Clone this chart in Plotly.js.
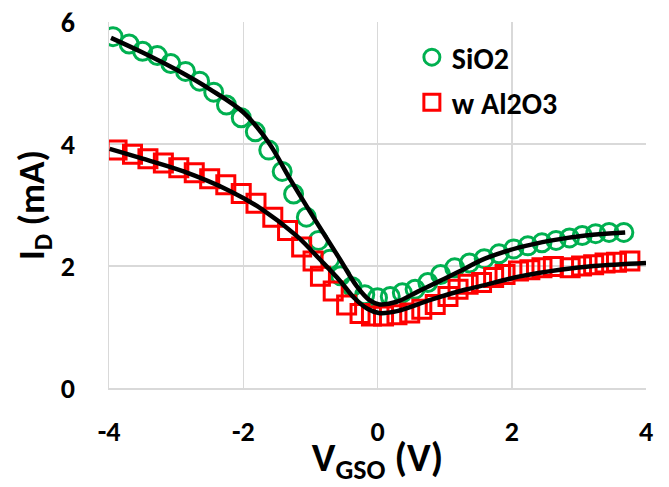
<!DOCTYPE html>
<html>
<head>
<meta charset="utf-8">
<script src="https://cdn.plot.ly/plotly-3.0.1.min.js"></script>
<style>html,body{margin:0;padding:0;background:#fff;}</style>
</head>
<body>
<div id="chart" style="width:669px;height:487px;"></div>
<script>
// SiO2 measured (circles)
const sio2X = [-3.94,-3.70,-3.50,-3.28,-3.08,-2.86,-2.65,-2.44,-2.25,-2.03,-1.82,-1.62,-1.42,-1.25,-1.06,-0.88,-0.71,-0.55,-0.38,-0.19,0.00,0.19,0.37,0.56,0.75,0.94,1.15,1.37,1.59,1.81,2.03,2.24,2.45,2.66,2.86,3.05,3.25,3.45,3.67];
const sio2Y = [5.76,5.64,5.52,5.45,5.32,5.19,5.03,4.85,4.64,4.43,4.20,3.90,3.55,3.18,2.80,2.42,2.11,1.84,1.66,1.53,1.48,1.50,1.56,1.62,1.73,1.86,1.97,2.05,2.12,2.20,2.28,2.33,2.38,2.42,2.46,2.50,2.53,2.55,2.55];
// w Al2O3 measured (squares)
const alX = [-3.88,-3.65,-3.42,-3.19,-2.96,-2.73,-2.50,-2.26,-2.03,-1.81,-1.56,-1.34,-1.13,-0.96,-0.85,-0.66,-0.46,-0.26,-0.09,0.09,0.29,0.48,0.66,0.86,1.05,1.20,1.35,1.55,1.73,1.90,2.10,2.27,2.45,2.62,2.87,3.04,3.22,3.39,3.56,3.76];
const alY = [3.90,3.83,3.76,3.69,3.61,3.53,3.43,3.33,3.19,3.03,2.80,2.58,2.31,2.08,1.83,1.59,1.36,1.22,1.18,1.18,1.20,1.23,1.29,1.37,1.50,1.62,1.70,1.73,1.81,1.86,1.92,1.94,1.97,1.99,1.97,2.00,2.02,2.05,2.06,2.08];
// fitted curves (black)
const fitSiX = [-3.97,-3.5,-3.0,-2.5,-2.0,-1.62,-1.3,-0.96,-0.56,-0.31,-0.12,0.03,0.3,0.6,0.9,1.2,1.6,2.1,2.6,3.1,3.69];
const fitSiY = [5.74,5.50,5.22,4.90,4.52,4.02,3.42,2.81,2.11,1.67,1.44,1.37,1.42,1.58,1.74,1.90,2.12,2.30,2.42,2.50,2.55];
const fitAlX = [-3.99,-3.5,-2.89,-2.2,-1.72,-1.2,-0.86,-0.56,-0.35,-0.15,0.02,0.29,0.8,1.3,1.53,2.12,2.72,3.22,4.0];
const fitAlY = [3.92,3.76,3.55,3.23,2.93,2.49,2.11,1.76,1.48,1.30,1.23,1.26,1.45,1.61,1.67,1.83,1.94,2.00,2.05];

const xTicks = [-4,-2,0,2,4];
const yTicks = [0,2,4,6];

const FONT = "Carlito, Calibri, Lato, 'Liberation Sans', sans-serif";

const traces = [
  {x: sio2X, y: sio2Y, type:'scatter', mode:'markers', name:'SiO2', legendgroup:'a',
   marker:{symbol:'circle-open', size:18, color:'#00b050', line:{width:3, color:'#00b050'}}},
  {x: alX, y: alY, type:'scatter', mode:'markers', name:'w Al2O3', legendgroup:'b',
   marker:{symbol:'square-open', size:18, color:'#ff0000', line:{width:3, color:'#ff0000'}}},
  {x: fitSiX, y: fitSiY, type:'scatter', mode:'lines', showlegend:false,
   line:{color:'#000000', width:4.5, shape:'spline', smoothing:1}},
  {x: fitAlX, y: fitAlY, type:'scatter', mode:'lines', showlegend:false,
   line:{color:'#000000', width:4.5, shape:'spline', smoothing:1}}
];

const layout = {
  width:669, height:487,
  margin:{l:109, r:23, t:22, b:99},
  paper_bgcolor:'#ffffff', plot_bgcolor:'#ffffff',
  font:{family:FONT, color:'#000', size:24, weight:'bold'},
  showlegend:true,
  legend:{x:0.564, xanchor:'left', y:0.975, yanchor:'top', bgcolor:'rgba(0,0,0,0)',
          font:{family:FONT, size:30, weight:'bold', color:'#000'},
          traceorder:'grouped', tracegroupgap:3},
  xaxis:{range:[-4,4], tickvals:xTicks, ticktext:xTicks.map(String),
         showgrid:true, gridcolor:'#d9d9d9', gridwidth:1.5, zeroline:false,
         showline:true, linecolor:'#d9d9d9', linewidth:1.5,
         ticks:'outside', ticklen:18, tickcolor:'rgba(0,0,0,0)',
         tickfont:{family:FONT, size:28, weight:'bold'},
         title:{text:'V<sub>GSO</sub> (V)', font:{family:FONT, size:40, weight:'bold'}, standoff:6}},
  yaxis:{range:[0,6], tickvals:yTicks, ticktext:yTicks.map(String),
         showgrid:true, gridcolor:'#d9d9d9', gridwidth:1.5, zeroline:false,
         showline:true, linecolor:'#d9d9d9', linewidth:1.5,
         ticks:'outside', ticklen:27, tickcolor:'rgba(0,0,0,0)',
         tickfont:{family:FONT, size:28, weight:'bold'},
         title:{text:'I<sub>D</sub> (mA)', font:{family:FONT, size:37, weight:'bold'}, standoff:4}}
};

Plotly.newPlot('chart', traces, layout, {displayModeBar:false, staticPlot:true});
</script>
</body>
</html>
